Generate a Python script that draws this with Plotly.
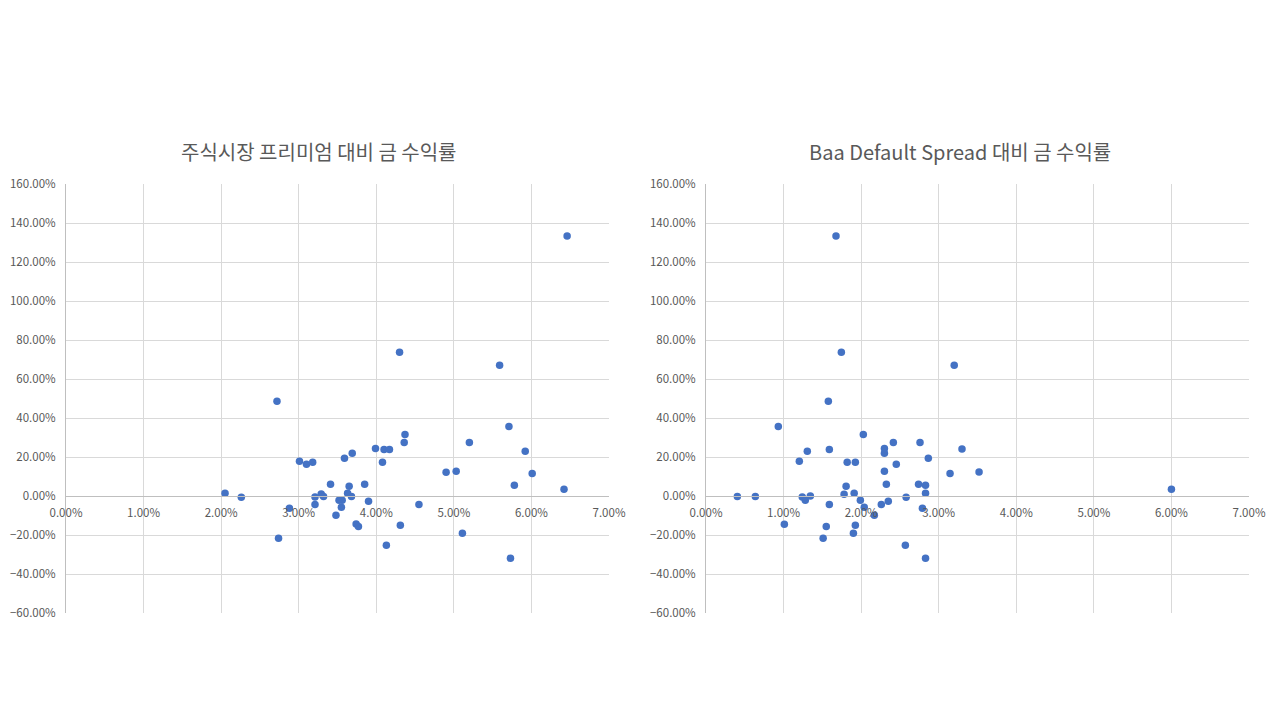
import plotly.graph_objects as go

# 주식시장 프리미엄 (x) vs 금 수익률 (y)
equity_premium = [
    4.30, 2.72, 4.37, 4.36, 3.99, 4.10, 4.17, 3.69, 3.59, 3.01, 3.10, 3.18,
    4.08, 3.41, 3.85, 3.65, 2.05, 2.26, 3.29, 3.32, 3.21, 3.63, 3.68, 3.21,
    2.88, 3.52, 3.56, 3.55, 3.90, 3.48, 3.74, 3.77, 4.31, 4.55, 2.74, 4.13,
    5.59, 5.71, 5.20, 5.92, 4.90, 5.03, 6.01, 5.78, 6.42, 5.11, 5.73, 6.46,
]
gold_return_left = [
    73.7, 48.6, 31.6, 27.5, 24.4, 23.9, 23.9, 21.9, 19.3, 17.8, 16.3, 17.3,
    17.3, 6.0, 6.0, 5.0, 1.4, -0.7, 1.0, -0.2, -0.5, 1.4, -0.2, -4.3,
    -6.3, -2.2, -2.2, -5.8, -2.7, -9.9, -14.4, -15.6, -15.0, -4.3, -21.7, -25.3,
    67.0, 35.7, 27.5, 22.9, 12.2, 12.7, 11.6, 5.5, 3.4, -19.1, -31.9, 133.3,
]

# Baa Default Spread (x) vs 금 수익률 (y)
baa_spread = [
    1.745, 1.577, 0.932, 2.028, 2.415, 2.759, 2.30, 2.30, 1.59, 1.306, 2.866, 1.203,
    1.82, 1.925, 2.453, 2.30, 3.146, 2.325, 2.74, 2.83, 1.806, 2.83, 1.78, 1.91,
    0.404, 0.636, 1.241, 1.28, 1.345, 2.58, 1.99, 2.04, 2.26, 2.35, 2.79, 1.59,
    2.17, 1.01, 1.55, 1.925, 1.90, 1.51, 2.57, 2.83, 1.676, 3.20, 3.30, 3.52, 6.00,
]
gold_return_right = [
    73.7, 48.6, 35.7, 31.6, 27.5, 27.5, 24.4, 21.9, 23.9, 22.9, 19.3, 17.8,
    17.3, 17.3, 16.3, 12.7, 11.6, 6.0, 6.0, 5.5, 5.0, 1.4, 0.9, 1.4,
    -0.2, -0.2, -0.5, -2.2, 0.0, -0.7, -2.2, -5.8, -4.3, -2.7, -6.3, -4.3,
    -9.9, -14.5, -15.6, -15.0, -19.1, -21.7, -25.3, -31.9, 133.3, 67.0, 24.1, 12.3, 3.4,
]

titles = ["주식시장 프리미엄 대비 금 수익률", "Baa Default Spread 대비 금 수익률"]

BLUE = "#4472C4"
GRID = "#d9d9d9"
AXIS = "#bfbfbf"
TEXT = "#595959"
FONT = "Noto Sans CJK KR, Open Sans, sans-serif"

# the page puts the figure 8px in from the corner, so size it to fit the window
W, H, OFF = 1264, 704, 8


def px(x):
    return (x - OFF) / W


def py(y):
    return 1 - (y - OFF) / H


fig = go.Figure()
fig.add_trace(go.Scatter(
    x=[v / 100 for v in equity_premium], y=[v / 100 for v in gold_return_left],
    mode="markers", marker=dict(color=BLUE, size=7.5), xaxis="x", yaxis="y",
))
fig.add_trace(go.Scatter(
    x=[v / 100 for v in baa_spread], y=[v / 100 for v in gold_return_right],
    mode="markers", marker=dict(color=BLUE, size=7.5), xaxis="x2", yaxis="y2",
))

# plot areas
y_dom = [py(613), py(184)]
zero_pos = y_dom[0] + (0.6 / 2.2) * (y_dom[1] - y_dom[0])

xcommon = dict(
    range=[0, 0.07], dtick=0.01, tickformat=".2%", showgrid=True, gridcolor=GRID,
    showline=True, linecolor=AXIS, zeroline=False, ticks="", anchor="free",
    position=zero_pos, automargin=False, ticklabelstandoff=6,
    tickfont=dict(size=11.5, color=TEXT, family=FONT),
)
ycommon = dict(
    range=[-0.6, 1.6], dtick=0.2, tickformat=".2%", showgrid=True, gridcolor=GRID,
    showline=True, linecolor=AXIS, zeroline=False, ticks="", domain=y_dom,
    automargin=False, ticklabelstandoff=7,
    tickfont=dict(size=11.5, color=TEXT, family=FONT),
)

title_font = dict(size=20, color=TEXT, family=FONT)

fig.update_layout(
    width=W, height=H,
    paper_bgcolor="white", plot_bgcolor="white",
    showlegend=False,
    margin=dict(l=0, r=0, t=0, b=0, autoexpand=False),
    xaxis=dict(domain=[px(66), px(609)], **xcommon),
    xaxis2=dict(domain=[px(706), px(1249)], **xcommon),
    yaxis=dict(anchor="x", **ycommon),
    yaxis2=dict(anchor="x2", **ycommon),
    annotations=[
        dict(text=titles[0], x=px(319), y=py(151), xref="paper", yref="paper",
             xanchor="center", yanchor="middle", showarrow=False, font=title_font),
        dict(text=titles[1], x=px(960), y=py(151), xref="paper", yref="paper",
             xanchor="center", yanchor="middle", showarrow=False, font=title_font),
    ],
)

fig.write_html("out.html")
